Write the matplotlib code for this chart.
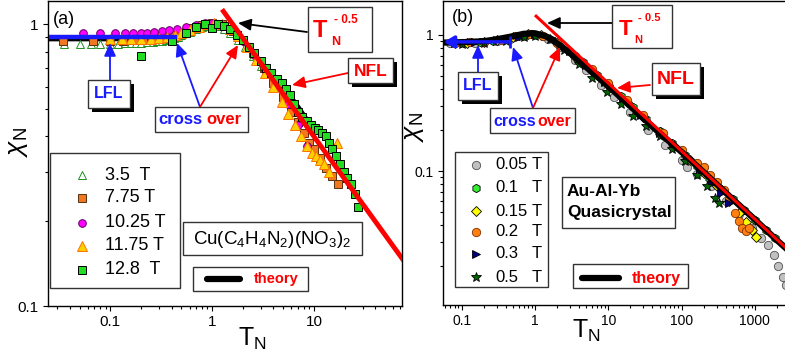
import matplotlib
matplotlib.use('Agg')
import matplotlib.pyplot as plt
from matplotlib.patches import Rectangle, FancyArrowPatch
from matplotlib.lines import Line2D
from matplotlib.ticker import LogLocator, NullFormatter, FuncFormatter

plt.rcParams['font.family'] = ['Liberation Sans', 'DejaVu Sans']
plt.rcParams['mathtext.fontset'] = 'custom'
plt.rcParams['mathtext.rm'] = 'Liberation Sans'
plt.rcParams['mathtext.it'] = 'Liberation Sans:italic'
plt.rcParams['mathtext.bf'] = 'Liberation Sans:bold'

W, H = 785, 359

# ---------------- panel (a): Cu(C4H4N2)(NO3)2 ----------------
theory_a_T = [0.025, 0.05, 0.1, 0.2, 0.3, 0.4, 0.5, 0.6, 0.7, 0.8, 0.9, 1.0, 1.2, 1.4,
              1.7, 2.0, 2.5, 3.0, 3.5, 4.0, 5.0, 6.0, 7.0, 8.0]
theory_a_chi = [0.89, 0.89, 0.89, 0.895, 0.905, 0.92, 0.94, 0.96, 0.975, 0.985, 0.99, 0.99,
                0.98, 0.96, 0.92, 0.87, 0.79, 0.73, 0.68, 0.645, 0.59, 0.545, 0.505, 0.47]

a35_T = [0.035, 0.05, 0.065, 0.08, 0.1, 0.12, 0.14, 0.16, 0.18, 0.2, 0.23, 0.26, 0.29, 0.32,
         0.35, 0.38, 0.42, 0.46, 0.5, 0.6, 0.7, 0.8, 0.9, 1.0, 1.1, 1.3, 1.5, 1.8, 2.1, 2.5,
         3.0, 3.5, 4.0, 4.5, 5.0]
a35_chi = [0.85, 0.85, 0.85, 0.85, 0.85, 0.85, 0.855, 0.855, 0.86, 0.86, 0.865, 0.865, 0.87,
           0.875, 0.88, 0.885, 0.895, 0.905, 0.915, 0.94, 0.965, 0.98, 0.99, 0.99, 0.985,
           0.96, 0.93, 0.88, 0.83, 0.77, 0.71, 0.67, 0.63, 0.60, 0.57]

a775_T = [0.034, 0.067, 0.1, 0.134, 0.17, 0.21, 0.26, 0.32, 0.4, 0.5, 0.65, 0.8, 1.0, 1.25,
          1.6, 2.0, 2.5, 3.2, 4.0, 5.0, 6.0, 7.0, 8.0, 9.0, 10.0, 11.5, 13, 15, 17]
a775_chi = [0.87, 0.87, 0.875, 0.875, 0.88, 0.885, 0.89, 0.90, 0.915, 0.94, 0.97, 0.995, 1.01,
            1.0, 0.95, 0.88, 0.79, 0.70, 0.62, 0.55, 0.49, 0.45, 0.41, 0.38, 0.36, 0.335,
            0.31, 0.29, 0.27]

a1025_T = [0.054, 0.08, 0.112, 0.14, 0.168, 0.2, 0.23, 0.27, 0.32, 0.38, 0.45, 0.55, 0.7,
           0.85, 1.0, 1.2, 1.5, 2.0, 2.6, 3.3, 4.2, 5.5, 7.0, 8.5]
a1025_chi = [0.93, 0.93, 0.93, 0.93, 0.93, 0.935, 0.935, 0.94, 0.945, 0.955, 0.965, 0.98,
             0.995, 1.01, 1.01, 1.0, 0.96, 0.87, 0.78, 0.69, 0.61, 0.52, 0.44, 0.37]

a1175_T = [0.1, 0.13, 0.16, 0.2, 0.25, 0.3, 0.36, 0.43, 0.5, 0.6, 0.75, 0.9, 1.05, 1.25, 1.5,
           1.8, 2.2, 2.7, 3.3, 4.0, 4.8, 5.6, 6.5, 7.5, 8.5, 9.5, 10.5, 11.5, 12.5, 14.0, 16.8]
a1175_chi = [0.885, 0.885, 0.885, 0.89, 0.89, 0.895, 0.905, 0.915, 0.93, 0.955, 0.98, 1.0,
             1.01, 1.0, 0.96, 0.91, 0.83, 0.75, 0.67, 0.60, 0.53, 0.48, 0.44, 0.40, 0.37,
             0.35, 0.34, 0.33, 0.32, 0.30, 0.38]

a128_T = [0.2, 0.405, 0.55, 0.7, 0.85, 1.0, 1.15, 1.3, 1.5, 1.75, 2.0, 2.3, 2.6, 3.0, 3.4,
          3.8, 4.3, 4.8, 5.3, 5.8, 6.4, 7.0, 7.7, 8.5, 9.3, 10.2, 11.0, 12.0, 13.0, 14.0,
          15.0, 16.5, 18.0, 19.5, 21.0, 23.0, 25.0, 27.0]
a128_chi = [0.77, 0.87, 0.93, 0.98, 1.0, 0.97, 1.0, 0.99, 0.96, 0.92, 0.88, 0.83, 0.79, 0.74,
            0.70, 0.67, 0.64, 0.62, 0.59, 0.56, 0.52, 0.49, 0.47, 0.455, 0.44, 0.43, 0.42,
            0.41, 0.40, 0.38, 0.36, 0.34, 0.32, 0.30, 0.285, 0.27, 0.25, 0.225]

red_a_T = [1.25, 80]
red_a_chi = [1.13, 0.141]
lfl_a_T = [0.025, 0.45]
lfl_a_chi = [0.905, 0.905]

# ---------------- panel (b): Au-Al-Yb quasicrystal ----------------
theory_b_T = [0.06, 0.1, 0.2, 0.3, 0.5, 0.7, 1.0, 1.4, 2.0, 3.0, 5.0, 10, 20, 50, 100, 200,
              500, 1000, 2000, 3000]
theory_b_chi = [0.88, 0.885, 0.90, 0.93, 0.98, 1.02, 1.03, 0.98, 0.87, 0.74, 0.58, 0.42,
                0.30, 0.19, 0.138, 0.098, 0.062, 0.044, 0.031, 0.0255]

b005_T = [0.07, 0.1, 0.15, 0.2, 0.3, 0.45, 0.7, 1.0, 1.5, 2.2, 3.5, 5, 8, 12, 20, 35, 60,
          100, 120, 160, 250, 400, 600, 900, 1200, 1500, 1800, 2100, 2400, 2700]
b005_chi = [0.87, 0.87, 0.88, 0.885, 0.9, 0.93, 0.99, 1.0, 0.93, 0.82, 0.66, 0.55, 0.43,
            0.35, 0.27, 0.2, 0.155, 0.12, 0.107, 0.095, 0.077, 0.06, 0.048, 0.038, 0.032,
            0.0285, 0.024, 0.020, 0.0165, 0.0145]

b01_T = [0.08, 0.12, 0.18, 0.27, 0.4, 0.6, 0.9, 1.3, 2, 3, 4.5, 7, 10, 15, 22, 33, 50, 75,
         110, 160, 240, 350, 500, 700, 1000, 1400, 1900]
b01_chi = [0.88, 0.88, 0.89, 0.9, 0.93, 0.98, 1.02, 0.99, 0.88, 0.75, 0.63, 0.51, 0.435,
           0.355, 0.295, 0.24, 0.196, 0.16, 0.132, 0.109, 0.089, 0.074, 0.062, 0.052,
           0.044, 0.037, 0.032]

b015_T = [0.08, 0.12, 0.2, 0.3, 0.5, 0.8, 1.2, 2, 3.5, 6, 10, 18, 30, 50, 80, 130, 200, 300,
          450, 600, 750, 900, 1050]
b015_chi = [0.88, 0.88, 0.895, 0.92, 0.97, 1.01, 1.0, 0.87, 0.69, 0.54, 0.43, 0.32, 0.25,
            0.195, 0.153, 0.12, 0.096, 0.077, 0.06, 0.049, 0.042, 0.037, 0.033]

b02_T = [0.08, 0.13, 0.2, 0.35, 0.55, 0.85, 1.3, 2, 3.5, 6, 10, 18, 30, 55, 100, 160, 200,
         245, 300, 380, 450, 530, 600, 670, 750, 820]
b02_chi = [0.88, 0.885, 0.895, 0.925, 0.975, 1.02, 0.99, 0.88, 0.7, 0.56, 0.44, 0.33, 0.26,
           0.19, 0.143, 0.115, 0.107, 0.094, 0.083, 0.072, 0.062, 0.049, 0.043, 0.038,
           0.036, 0.038]

b03_T = [0.08, 0.15, 0.3, 0.6, 1.0, 1.7, 3, 5, 9, 16, 28, 50, 80, 120, 180, 260, 350, 450]
b03_chi = [0.88, 0.89, 0.92, 0.97, 1.01, 0.95, 0.76, 0.6, 0.45, 0.34, 0.26, 0.19, 0.152,
           0.125, 0.1, 0.082, 0.069, 0.058]

b05_T = [0.1, 0.2, 0.4, 0.7, 1.0, 1.6, 2.5, 4, 6, 9.6, 15, 22, 33, 50, 75, 110, 160, 220,
         285, 320]
b05_chi = [0.86, 0.87, 0.9, 0.96, 0.99, 0.93, 0.78, 0.61, 0.48, 0.38, 0.31, 0.255, 0.215,
           0.18, 0.145, 0.118, 0.094, 0.077, 0.063, 0.058]

red_b_T = [1.0, 3500]
red_b_chi = [1.40, 0.0237]
lfl_b_T = [0.456, 0.057]
lfl_b_chi = [0.89, 0.89]

# series styles: (T, chi, marker, face, edge, size, legend text)
series_a = [
    (a35_T, a35_chi, '^', 'white', '#1f8f1f', 6, '3.5  T'),
    (a775_T, a775_chi, 's', '#f07820', '#5a3010', 5.5, '7.75 T'),
    (a1025_T, a1025_chi, 'o', '#ff00ff', '#600060', 5.5, '10.25 T'),
    (a1175_T, a1175_chi, '^', '#ffd000', '#ff7000', 6.5, '11.75 T'),
    (a128_T, a128_chi, 's', '#22dd22', '#000000', 5.5, '12.8  T'),
]
series_b = [
    (b005_T, b005_chi, 'o', '#c0c0c0', '#505050', 6, '0.05'),
    (b01_T, b01_chi, 'h', '#33ee33', '#000000', 6, '0.1'),
    (b015_T, b015_chi, 'D', '#ffff00', '#000000', 5, '0.15'),
    (b02_T, b02_chi, 'o', '#ff8010', '#803000', 6, '0.2'),
    (b03_T, b03_chi, '>', '#000080', '#000000', 6, '0.3'),
    (b05_T, b05_chi, '*', '#006400', '#000000', 7, '0.5'),
]


def fp(x, y):
    return (x / W, 1 - y / H)


fig = plt.figure(figsize=(W / 100, H / 100), dpi=100)

axa = fig.add_axes([48 / W, 1 - 306 / H, (402 - 48) / W, 305 / H])
axb = fig.add_axes([443 / W, 1 - 305 / H, (790 - 443) / W, 304 / H])

for ax, lsize in ((axa, 11), (axb, 10)):
    ax.set_xscale('log')
    ax.set_yscale('log')
    ax.xaxis.set_major_locator(LogLocator(base=10, numticks=20))
    ax.yaxis.set_major_locator(LogLocator(base=10, numticks=20))
    ax.xaxis.set_minor_locator(LogLocator(base=10, subs=range(2, 10), numticks=50))
    ax.yaxis.set_minor_locator(LogLocator(base=10, subs=range(2, 10), numticks=50))
    ax.xaxis.set_major_formatter(FuncFormatter(lambda v, p: f'{v:g}'))
    ax.yaxis.set_major_formatter(FuncFormatter(lambda v, p: f'{v:g}'))
    ax.xaxis.set_minor_formatter(NullFormatter())
    ax.yaxis.set_minor_formatter(NullFormatter())
    ax.tick_params(which='both', direction='out', width=0.8, labelsize=lsize,
                   top=False, right=False)
    ax.tick_params(which='major', length=3.8, pad=3)
    ax.tick_params(which='minor', length=2.2)
    for s in ax.spines.values():
        s.set_linewidth(1.0)

axa.set_xlim(0.0245, 73)
axa.set_ylim(0.1, 1.21)
axb.set_xlim(0.0556, 3014)
axb.set_ylim(0.01035, 1.778)

# panel (a) marks
axa.plot(theory_a_T, theory_a_chi, color='black', lw=4, zorder=2)
for T, c, m, fc, ec, ms, lab in series_a:
    axa.plot(T, c, ls='none', marker=m, mfc=fc, mec=ec, ms=ms, mew=0.7, zorder=3)
axa.plot(red_a_T, red_a_chi, color='#ff0000', lw=3.5, zorder=4, solid_capstyle='butt')
axa.plot(lfl_a_T, lfl_a_chi, color='#1a1aff', lw=3.2, zorder=5, solid_capstyle='butt')

# panel (b) marks
for T, c, m, fc, ec, ms, lab in series_b:
    axb.plot(T, c, ls='none', marker=m, mfc=fc, mec=ec, ms=ms, mew=0.6, zorder=3)
axb.plot(theory_b_T, theory_b_chi, color='black', lw=4.5, zorder=4)
axb.plot(red_b_T, red_b_chi, color='#ff0000', lw=2.2, zorder=5, solid_capstyle='butt')
axb.annotate('', xy=(lfl_b_T[1], lfl_b_chi[1]), xytext=(lfl_b_T[0], lfl_b_chi[0]),
             arrowprops=dict(arrowstyle='-|>,head_length=0.6,head_width=0.35',
                             color='#1a1aff', lw=2.5, shrinkA=0, shrinkB=0), zorder=6)
axb.plot([lfl_b_T[0]], [lfl_b_chi[0]], marker='|', ms=8, mew=2, color='#1a1aff', zorder=6)


# ---------------- figure-level decorations ----------------
def box(x0, y0, x1, y1, shadow=False, lw=1.0):
    if shadow:
        fig.add_artist(Rectangle(fp(x0 + 4, y1 + 4), (x1 - x0) / W, (y1 - y0) / H,
                                 transform=fig.transFigure, fc='black', ec='none', zorder=8))
    fig.add_artist(Rectangle(fp(x0, y1), (x1 - x0) / W, (y1 - y0) / H,
                             transform=fig.transFigure, fc='white', ec='#333333', lw=lw,
                             zorder=9))


def arrow(x0, y0, x1, y1, color):
    fig.add_artist(FancyArrowPatch(fp(x0, y0), fp(x1, y1), transform=fig.transFigure,
                                   arrowstyle='-|>,head_length=0.55,head_width=0.25',
                                   mutation_scale=14, color=color, lw=1.3,
                                   shrinkA=0, shrinkB=0, zorder=7))


def txt(x, y, s, **kw):
    kw.setdefault('zorder', 10)
    fig.text(*fp(x, y), s, **kw)


# panel labels
txt(53, 19, '(a)', fontsize=13, va='center')
txt(452, 17, '(b)', fontsize=13, va='center')

# axis titles
txt(18, 142, r'$\chi_\mathrm{N}$', fontsize=19, rotation=90, ha='center', va='center')
txt(414, 127, r'$\chi_\mathrm{N}$', fontsize=19, rotation=90, ha='center', va='center')
txt(238, 346, r'T$_{\mathrm{N}}$', fontsize=18, va='baseline')
txt(572, 338, r'T$_{\mathrm{N}}$', fontsize=18, va='baseline')

# (a) T_N^-0.5 box
box(308, 7, 372, 52)
txt(313, 37, 'T', fontsize=17, color='#ff0000', weight='bold', va='baseline')
txt(331, 45, 'N', fontsize=9, color='#ff0000', weight='bold', va='baseline')
txt(334, 23, '- 0.5', fontsize=8.5, color='#ff0000', weight='bold', va='baseline')
arrow(307, 32, 238, 23, 'black')

# (a) NFL
box(348, 58, 393, 83, shadow=True)
txt(370.5, 71, 'NFL', fontsize=12.5, color='#ff0000', weight='bold', ha='center', va='center')
arrow(348, 73, 292, 85, '#ff0000')

# (a) LFL
box(88, 80, 130, 108, shadow=True)
txt(109, 94, 'LFL', fontsize=11.5, color='#1a1aff', weight='bold', ha='center', va='center')
arrow(110, 80, 110, 43, '#1a1aff')

# (a) cross over
box(155, 107, 248, 132)
txt(158, 124, 'cross', fontsize=12, color='#1a1aff', weight='bold', va='baseline')
txt(206, 124, 'over', fontsize=12, color='#ff0000', weight='bold', va='baseline')
arrow(200, 107, 177, 43, '#1a1aff')
arrow(200, 107, 238, 45, '#ff0000')

# (a) legend
box(50, 153, 180, 288)
for (T, c, m, fc, ec, ms, lab), yy in zip(series_a, [175, 198, 223, 246, 270]):
    fig.add_artist(Line2D([82 / W], [1 - yy / H], transform=fig.transFigure, ls='none',
                          marker=m, mfc=fc, mec=ec, ms=ms, mew=0.7, zorder=10))
    txt(105, yy, lab, fontsize=13, va='center')

# (a) compound box
box(183, 222, 362, 255)
txt(272, 239, r'Cu(C$_4$H$_4$N$_2$)(NO$_3$)$_2$', fontsize=13.5, ha='center', va='center')

# (a) theory box
box(193, 267, 308, 291)
fig.add_artist(Line2D([207 / W, 240 / W], [1 - 279 / H] * 2, transform=fig.transFigure,
                      color='black', lw=4.5, solid_capstyle='round', zorder=10))
txt(254, 279, 'theory', fontsize=10.5, color='#ff0000', weight='bold', va='center')

# (b) T_N^-0.5 box
box(612, 5, 672, 48)
txt(619, 35, 'T', fontsize=16, color='#ff0000', weight='bold', va='baseline')
txt(634, 43, 'N', fontsize=8, color='#ff0000', weight='bold', va='baseline')
txt(638, 21, '- 0.5', fontsize=8, color='#ff0000', weight='bold', va='baseline')
arrow(612, 23, 547, 23, 'black')

# (b) NFL
box(652, 63, 700, 95, shadow=True)
txt(676, 79, 'NFL', fontsize=14, color='#ff0000', weight='bold', ha='center', va='center')
arrow(650, 85, 617, 88, '#ff0000')

# (b) LFL
box(458, 72, 498, 100, shadow=True)
txt(478, 86, 'LFL', fontsize=11.5, color='#1a1aff', weight='bold', ha='center', va='center')
arrow(478, 72, 478, 45, '#1a1aff')

# (b) cross over
box(490, 108, 575, 133)
txt(493, 126, 'cross', fontsize=11.5, color='#1a1aff', weight='bold', va='baseline')
txt(537, 126, 'over', fontsize=11.5, color='#ff0000', weight='bold', va='baseline')
arrow(533, 108, 513, 47, '#1a1aff')
arrow(533, 108, 560, 47, '#ff0000')

# (b) legend
box(455, 152, 548, 287)
for (T, c, m, fc, ec, ms, lab), yy in zip(series_b, [165, 188, 211, 232, 254, 277]):
    fig.add_artist(Line2D([476 / W], [1 - yy / H], transform=fig.transFigure, ls='none',
                          marker=m, mfc=fc, mec=ec, ms=ms, mew=0.6, zorder=10))
    txt(495, yy, lab, fontsize=12, va='center')
    txt(532, yy, 'T', fontsize=12, va='center')

# (b) sample box
box(562, 177, 675, 228)
txt(567, 192, 'Au-Al-Yb', fontsize=12.5, weight='bold', va='center')
txt(567, 213, 'Quasicrystal', fontsize=12.5, weight='bold', va='center')

# (b) theory box
box(573, 264, 688, 288)
fig.add_artist(Line2D([582 / W, 619 / W], [1 - 278 / H] * 2, transform=fig.transFigure,
                      color='black', lw=4.5, solid_capstyle='round', zorder=10))
txt(632, 278, 'theory', fontsize=11.5, color='#ff0000', weight='bold', va='center')

fig.savefig('out.png', dpi=100)
